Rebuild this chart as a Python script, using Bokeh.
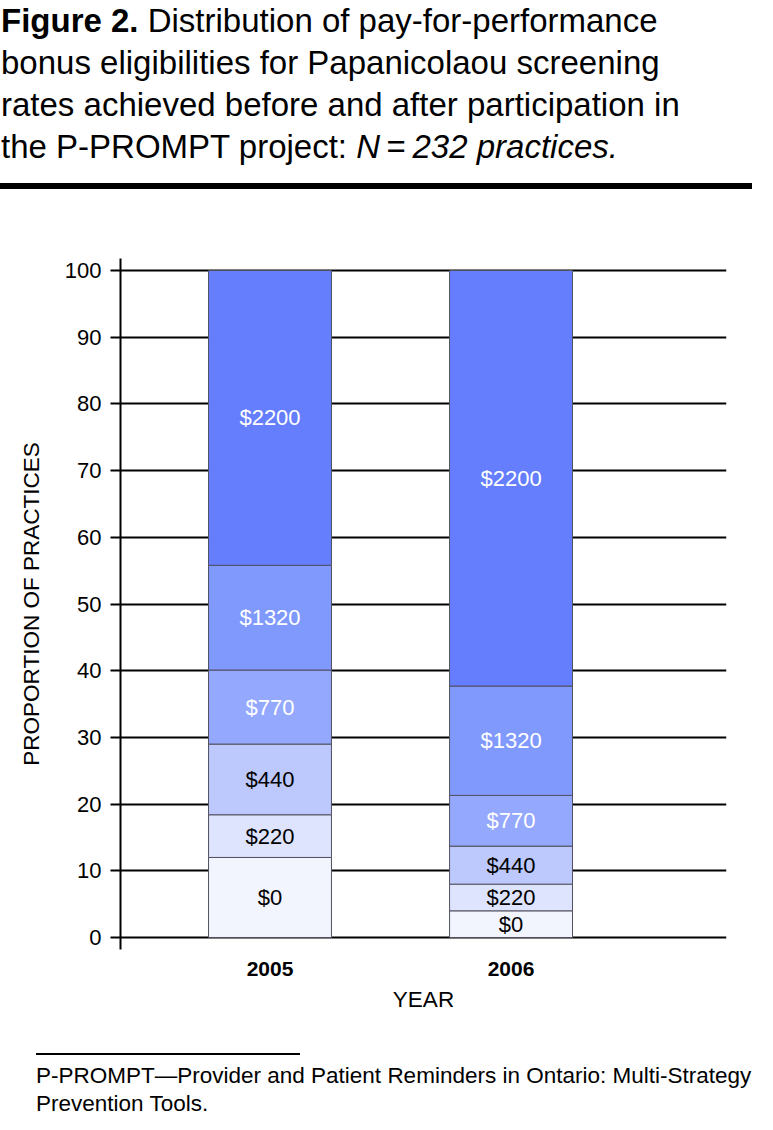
from bokeh.plotting import figure
from bokeh.models import Range1d, ColumnDataSource, FixedTicker, Div
from bokeh.layouts import column
from bokeh.embed import file_html
from bokeh.resources import INLINE
from bokeh.core.properties import value

# ---- data -------------------------------------------------------------
years = ["2005", "2006"]
bonus_levels = ["$0", "$220", "$440", "$770", "$1320", "$2200"]
share_2005 = [12.0, 6.4, 10.6, 11.1, 15.7, 44.2]
share_2006 = [4.0, 4.0, 5.7, 7.6, 16.4, 62.3]
y_ticks = [0, 10, 20, 30, 40, 50, 60, 70, 80, 90, 100]

# ---- styles -----------------------------------------------------------
fill_colors = ["#f2f4fe", "#dee4fd", "#bdc9fd", "#94a8fd", "#8099fd", "#647efe"]
label_colors = ["#000000", "#000000", "#000000", "#ffffff", "#ffffff", "#ffffff"]
FONT = "Liberation Sans"

rows = dict(x=[], bottom=[], top=[], mid=[], fill=[], label=[], tcolor=[])
for i, shares in enumerate([share_2005, share_2006]):
    base = 0.0
    for j, s in enumerate(shares):
        rows["x"].append(i + 1)
        rows["bottom"].append(base)
        rows["top"].append(base + s)
        rows["mid"].append(base + s / 2.0)
        rows["fill"].append(fill_colors[j])
        rows["label"].append(bonus_levels[j])
        rows["tcolor"].append(label_colors[j])
        base += s
src = ColumnDataSource(rows)

p = figure(width=757, height=850, output_backend="svg", toolbar_location=None,
           x_range=Range1d(0.3797, 2.894), y_range=Range1d(-1.8, 101.8),
           min_border_left=120, min_border_right=31, min_border_top=68,
           min_border_bottom=91, margin=0)
p.outline_line_color = None
p.background_fill_color = "white"
p.border_fill_color = "white"

p.vbar(x="x", bottom="bottom", top="top", width=0.51, fill_color="fill",
       line_color="#50505e", line_width=1, source=src)
p.text(x="x", y="mid", text="label", text_color="tcolor", text_align="center",
       text_baseline="middle", text_font=value(FONT), text_font_size="22px",
       source=src)

# y axis
p.yaxis.ticker = FixedTicker(ticks=y_ticks)
p.yaxis.axis_line_width = 2
p.yaxis.axis_line_color = "black"
p.yaxis.major_tick_out = 10
p.yaxis.major_tick_in = 0
p.yaxis.major_tick_line_width = 2
p.yaxis.major_tick_line_color = "black"
p.yaxis.minor_tick_line_color = None
p.yaxis.major_label_text_font = FONT
p.yaxis.major_label_text_font_size = "22px"
p.yaxis.major_label_text_color = "black"
p.yaxis.major_label_standoff = 9
p.yaxis.axis_label = "PROPORTION OF PRACTICES"
p.yaxis.axis_label_text_font = FONT
p.yaxis.axis_label_text_font_style = "normal"
p.yaxis.axis_label_text_font_size = "22.5px"
p.yaxis.axis_label_text_color = "black"
p.yaxis.axis_label_standoff = 18

p.ygrid.ticker = FixedTicker(ticks=y_ticks)
p.ygrid.grid_line_color = "black"
p.ygrid.grid_line_width = 2
p.xgrid.grid_line_color = None

# x axis
p.xaxis.ticker = FixedTicker(ticks=[1, 2])
p.xaxis.major_label_overrides = {1: years[0], 2: years[1]}
p.xaxis.axis_line_color = None
p.xaxis.major_tick_line_color = None
p.xaxis.minor_tick_line_color = None
p.xaxis.major_label_text_font = FONT
p.xaxis.major_label_text_font_style = "bold"
p.xaxis.major_label_text_font_size = "21px"
p.xaxis.major_label_text_color = "black"
p.xaxis.major_label_standoff = 6
p.xaxis.axis_label = "YEAR"
p.xaxis.axis_label_text_font = FONT
p.xaxis.axis_label_text_font_style = "normal"
p.xaxis.axis_label_text_font_size = "22.5px"
p.xaxis.axis_label_text_color = "black"
p.xaxis.axis_label_standoff = 8

title_html = (
    "<div style=\"font-family:'Liberation Sans';font-size:33px;line-height:42px;"
    "color:#000;position:relative;left:1px;top:0px;white-space:nowrap;\">"
    "<b>Figure 2.</b> Distribution of pay-for-performance<br>"
    "bonus eligibilities for Papanicolaou screening<br>"
    "rates achieved before and after participation in<br>"
    "the P-PROMPT project: <i>N</i>&#8201;=&#8201;<i>232 practices.</i></div>"
    "<div style=\"position:relative;left:0px;top:15px;width:752px;height:6px;"
    "background:#000;\"></div>"
)
title_div = Div(text=title_html, width=757, height=190, margin=0)

foot_html = (
    "<div style=\"margin-left:36px;margin-top:13px;width:264px;height:2px;"
    "background:#000;\"></div>"
    "<div style=\"font-family:'Liberation Sans';font-size:22.5px;line-height:28px;"
    "color:#000;margin-left:36px;margin-top:7px;white-space:nowrap;\">"
    "P-PROMPT\u2014Provider and Patient Reminders in Ontario: Multi-Strategy<br>"
    "Prevention Tools.</div>"
)
foot_div = Div(text=foot_html, width=757, height=88, margin=0)

layout = column(title_div, p, foot_div, spacing=0)
open("out.html", "w").write(file_html(layout, INLINE))
